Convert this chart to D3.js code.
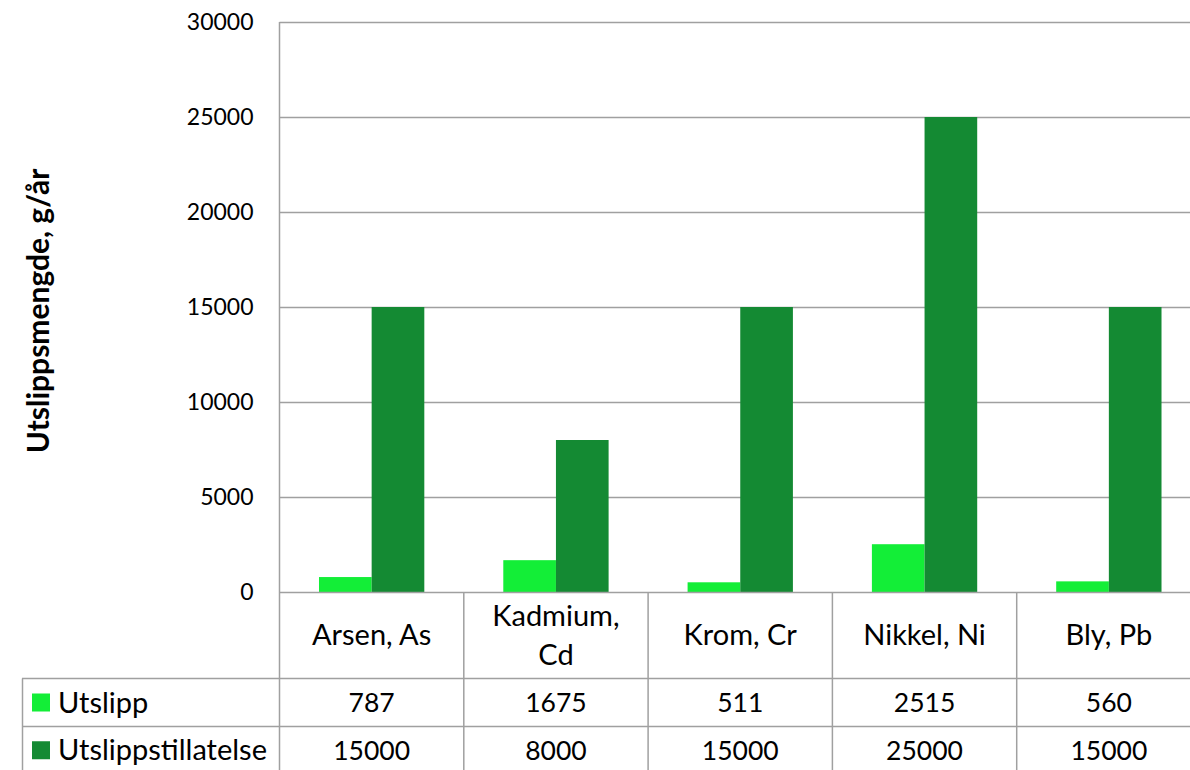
<!DOCTYPE html>
<html><head><meta charset="utf-8">
<script src="https://cdn.jsdelivr.net/npm/d3@7/dist/d3.min.js"></script>
<style>body{margin:0;background:#fff}svg{display:block}text{font-family:Lato,"Open Sans",sans-serif;fill:#000}</style>
</head><body><svg id="c" width="1190" height="770"></svg>
<script>
const categories = [["Arsen, As"], ["Kadmium,", "Cd"], ["Krom, Cr"], ["Nikkel, Ni"], ["Bly, Pb"]];
const seriesNames = ["Utslipp", "Utslippstillatelse"];
const utslipp = [787, 1675, 511, 2515, 560];
const tillatelse = [15000, 8000, 15000, 25000, 15000];
const yTicks = [0, 5000, 10000, 15000, 20000, 25000, 30000];
const colors = ["#13EE37", "#148A33"];

(function () {
const svg = d3.select("#c");
const pLeft = 279.5, catW = 184.3, pTop = 22, pBottom = 592;
const pRight = pLeft + catW * categories.length;
const x = d3.scaleBand().domain(d3.range(categories.length)).range([pLeft, pRight]).paddingInner(0).paddingOuter(0);
const xs = d3.scaleBand().domain([0, 1]).range([0, x.bandwidth()]).paddingInner(0).paddingOuter(0.75);
const y = d3.scaleLinear().domain([0, 30000]).range([pBottom, pTop]);
const grid = "#a0a0a0";
const labelSize = "29px", numSize = "26.5px";

// gridlines
svg.append("g").selectAll("line").data(yTicks.slice(1)).join("line")
  .attr("x1", pLeft).attr("x2", pRight).attr("y1", d => Math.round(y(d)) + 0.5).attr("y2", d => Math.round(y(d)) + 0.5)
  .attr("stroke", grid).attr("stroke-width", 1.5);

// bars
const series = [utslipp, tillatelse];
series.forEach((vals, si) => {
  svg.append("g").selectAll("rect").data(vals).join("rect")
    .attr("x", (d, i) => x(i) + xs(si)).attr("width", xs.bandwidth())
    .attr("y", d => y(d)).attr("height", d => y(0) - y(d))
    .attr("fill", colors[si]);
});

// y axis labels
const ax = svg.append("g").attr("transform", `translate(${pLeft},0)`)
  .call(d3.axisLeft(y).tickValues(yTicks).tickSize(0).tickPadding(26).tickFormat(d3.format("d")));
ax.select(".domain").remove();
ax.selectAll("text").style("font-size", "23px").style("font-family", "Lato").attr("fill", "#000");

// table lines
const tRow1 = 678.5, tRow2 = 726.5, tLeft = 22;
const lines = [
  [pLeft, pBottom + 0.5, pRight, pBottom + 0.5],
  [tLeft, tRow1, pRight, tRow1],
  [tLeft, tRow2, pRight, tRow2],
  [tLeft + 0.5, tRow1, tLeft + 0.5, 770],
  [pLeft, pTop, pLeft, 770]
];
d3.range(1, categories.length + 1).forEach(i => lines.push([pLeft + catW * i, pBottom, pLeft + catW * i, 770]));
svg.append("g").selectAll("line").data(lines).join("line")
  .attr("x1", d => d[0]).attr("y1", d => d[1]).attr("x2", d => d[2]).attr("y2", d => d[3])
  .attr("stroke", grid).attr("stroke-width", 1.5);

// category labels
const cl = svg.append("g").selectAll("text").data(categories).join("text")
  .attr("x", (d, i) => x(i) + x.bandwidth() / 2).attr("text-anchor", "middle")
  .style("font-size", labelSize);
cl.each(function(d) {
  const t = d3.select(this);
  const n = d.length;
  d.forEach((line, k) => {
    t.append("tspan").attr("x", t.attr("x"))
      .attr("y", 635 + (k - (n - 1) / 2) * 39).attr("dy", "0.35em").text(line);
  });
});

// data rows
const rowsY = [(tRow1 + tRow2) / 2, (tRow2 + 774) / 2];
series.forEach((vals, si) => {
  svg.append("g").selectAll("text").data(vals).join("text")
    .attr("x", (d, i) => x(i) + x.bandwidth() / 2).attr("y", rowsY[si]).attr("dy", "0.36em")
    .attr("text-anchor", "middle").style("font-size", numSize).text(d => d);
  svg.append("rect").attr("x", 32).attr("y", rowsY[si] - 9).attr("width", 18).attr("height", 18).attr("fill", colors[si]);
  svg.append("text").attr("x", 58).attr("y", rowsY[si]).attr("dy", "0.35em").style("font-size", labelSize).text(seriesNames[si]);
});

// y axis title
svg.append("text").attr("transform", "translate(38,311) rotate(-90)").attr("text-anchor", "middle")
  .attr("dy", "0.35em").style("font-size", "30px").style("font-weight", "bold").text("Utslippsmengde, g/år");
})();
</script></body></html>
